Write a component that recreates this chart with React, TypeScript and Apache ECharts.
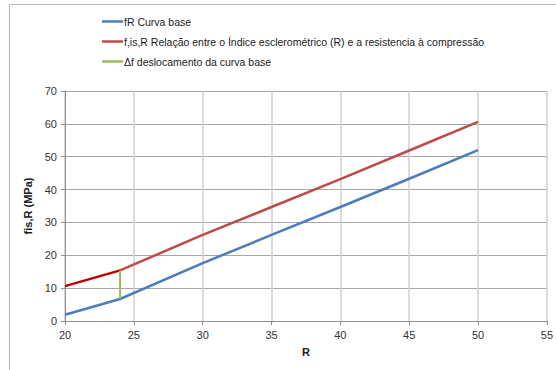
import React, { useEffect, useRef } from "react";
import * as echarts from "echarts";

const rValues = [20, 24, 30, 35, 40, 45, 50];
const baseCurve = [1.9, 6.7, 17.6, 26.2, 34.7, 43.3, 52.0];
const shiftedCurve = [10.6, 15.4, 26.2, 34.7, 43.2, 51.9, 60.6];
const shiftR = 24;
const shiftRange = [6.7, 15.4];
const xTicks = [20, 55, 5];
const yTicks = [0, 70, 10];
const names = [
  "fR Curva base",
  "f,is,R Relação entre o Índice esclerométrico (R) e a resistencia à compressão",
  "Δf deslocamento da curva base",
];

export default function App() {
  const ref = useRef<HTMLDivElement>(null);
  useEffect(() => {
    document.body.style.margin = "0";
    const chart = echarts.init(ref.current!, null, { renderer: "svg" });
    const font = "Liberation Sans";
    const basePts = rValues.map((r, i) => [r, baseCurve[i]]);
    const shiftedPts = rValues.map((r, i) => [r, shiftedCurve[i]]);
    const upper = shiftedPts.filter((p) => p[0] >= shiftR);
    const lower = shiftedPts.filter((p) => p[0] <= shiftR);
    chart.setOption({
      animation: false,
      textStyle: { fontFamily: font },
      graphic: [
        {
          type: "rect",
          shape: { x: 9.5, y: 4.5, width: 700, height: 500 },
          style: { fill: "none", stroke: "#b8b8b8", lineWidth: 1 },
          silent: true,
        },
      ],
      legend: {
        orient: "vertical",
        left: 97,
        top: 11,
        itemWidth: 21,
        itemHeight: 2.5,
        itemGap: 9,
        icon: "rect",
        data: names,
        textStyle: { fontFamily: font, fontSize: 10.5, color: "#1a1a1a", padding: [0, 0, 0, -4] },
      },
      grid: { left: 65, right: 8, top: 91, bottom: 49 },
      xAxis: {
        type: "value",
        min: xTicks[0],
        max: xTicks[1],
        interval: xTicks[2],
        name: "R",
        nameLocation: "middle",
        nameGap: 25,
        nameTextStyle: { fontWeight: "bold", fontSize: 11, color: "#1a1a1a", fontFamily: font },
        axisLine: { lineStyle: { color: "#8c8c8c" } },
        axisTick: { show: true, length: 4, lineStyle: { color: "#8c8c8c" } },
        axisLabel: { fontSize: 11, color: "#333", margin: 8 },
        splitLine: { show: true, lineStyle: { color: "#cfcfcf", width: 1.5 } },
      },
      yAxis: {
        type: "value",
        min: yTicks[0],
        max: yTicks[1],
        interval: yTicks[2],
        name: "fis,R (MPa)",
        nameLocation: "middle",
        nameGap: 26,
        nameTextStyle: { fontWeight: "bold", fontSize: 11, color: "#1a1a1a", fontFamily: font },
        axisLine: { show: true, lineStyle: { color: "#8c8c8c" } },
        axisTick: { show: true, length: 4, lineStyle: { color: "#8c8c8c" } },
        axisLabel: { fontSize: 11, color: "#333", margin: 8 },
        splitLine: { show: true, lineStyle: { color: "#a6a6a6", width: 1 } },
      },
      series: [
        {
          name: names[0],
          type: "line",
          data: basePts,
          showSymbol: false,
          lineStyle: { color: "#4A7EBB", width: 2.5 },
          itemStyle: { color: "#4A7EBB" },
        },
        {
          name: names[1],
          type: "line",
          data: upper,
          showSymbol: false,
          lineStyle: { color: "#BE4B48", width: 2.5 },
          itemStyle: { color: "#BE4B48" },
        },
        {
          name: "f,is,R (R < 24)",
          type: "line",
          data: lower,
          showSymbol: false,
          lineStyle: { color: "#C00000", width: 2.5 },
          itemStyle: { color: "#C00000" },
        },
        {
          name: names[2],
          type: "line",
          data: [
            [shiftR, shiftRange[0]],
            [shiftR, shiftRange[1]],
          ],
          showSymbol: false,
          lineStyle: { color: "#9BBB59", width: 2 },
          itemStyle: { color: "#9BBB59" },
        },
      ],
    });
    return () => chart.dispose();
  }, []);
  return <div ref={ref} style={{ width: 556, height: 370 }} />;
}
